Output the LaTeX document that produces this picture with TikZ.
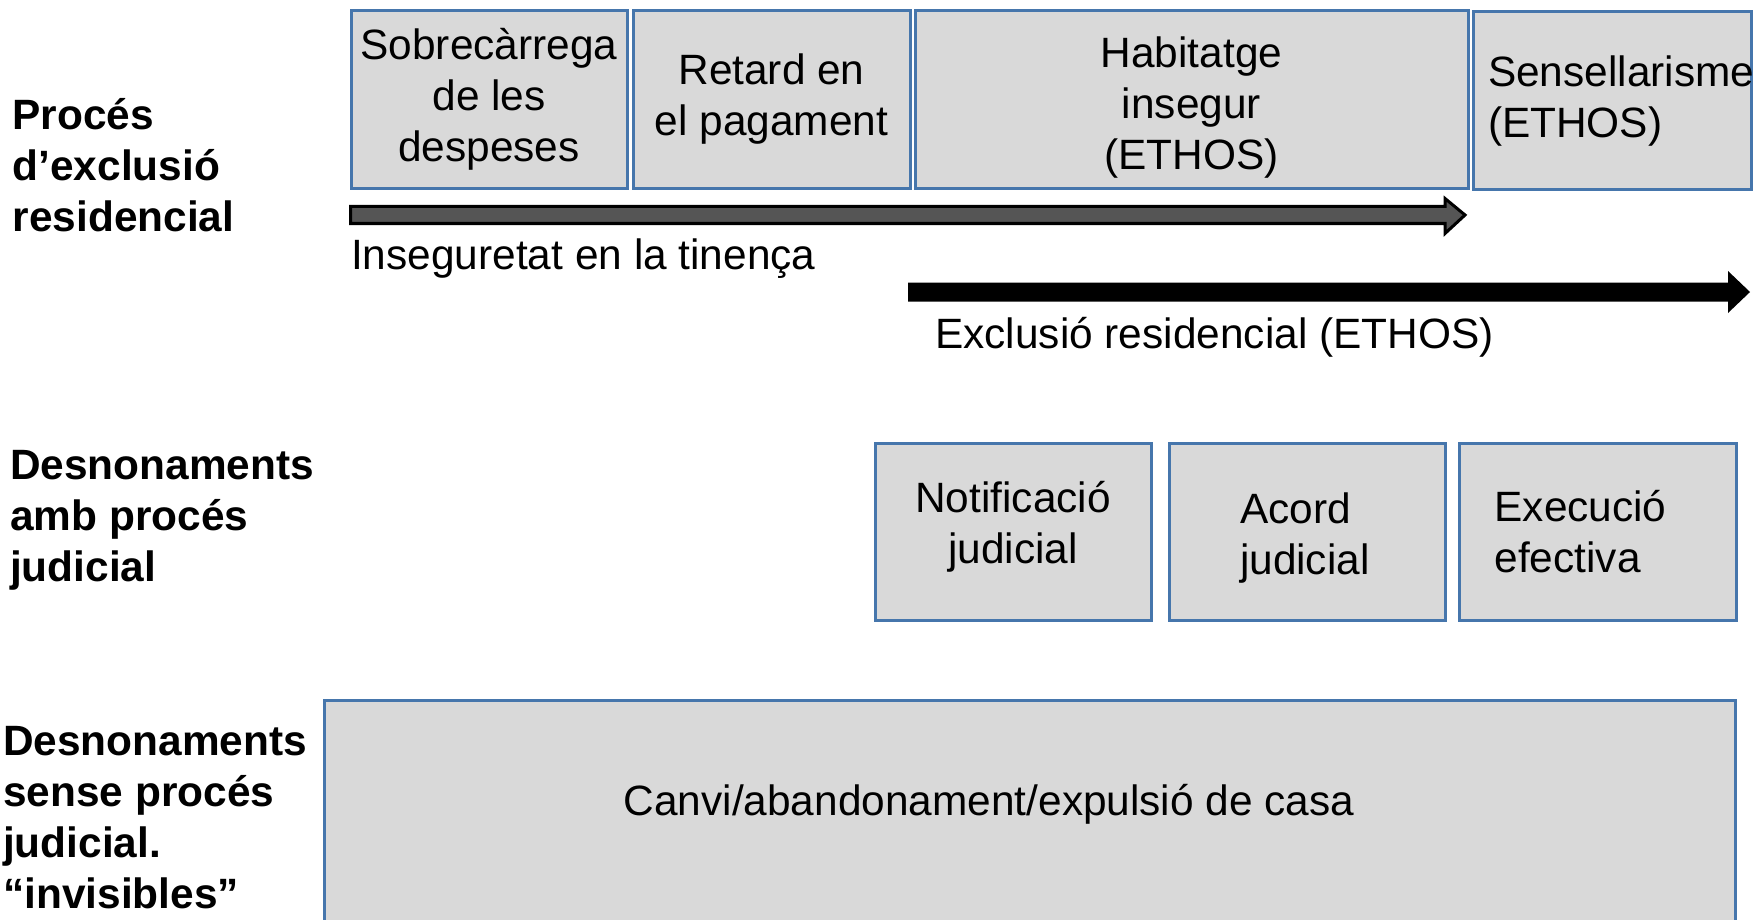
\documentclass[tikz,border=0pt]{standalone}
\usepackage{fontspec}
\setmainfont{Liberation Sans}
\definecolor{boxfill}{RGB}{217,217,217}
\definecolor{boxline}{RGB}{70,118,172}
\definecolor{arrowgray}{RGB}{85,85,85}
\begin{document}
\begin{tikzpicture}[x=1pt,y=-1pt,
  rowlabel/.style={font=\bfseries\fontsize{42.4}{51}\selectfont, align=left, inner sep=0pt, anchor=west},
  stage/.style={draw=boxline, line width=3pt, fill=boxfill, rectangle, inner sep=0pt,
                font=\fontsize{42.4}{51}\selectfont, align=center},
  stageleft/.style={stage, align=left},
  plaintext/.style={font=\fontsize{42.4}{51}\selectfont, inner sep=0pt}
]
\useasboundingbox (0,0) rectangle (1761,920);

% Row labels
\node[rowlabel] (l1) at (12.5,165.5) {Procés\\d’exclusió\\residencial};
\node[rowlabel] (l2) at (10,520) {Desnonaments\\amb procés\\judicial};
\node[rowlabel] (l3) at (3,817.5) {Desnonaments\\sense procés\\judicial.\\“invisibles”};

% Row 1 boxes
\node[stage, minimum width=276pt, minimum height=178pt] (b1) at (489,99.5)
  {Sobrecàrrega\\de les\\despeses};
\node[stage, minimum width=277pt, minimum height=178pt] (b2) at (771.5,99.5)
  {Retard en\\el pagament};
\node[stage, minimum width=553pt, minimum height=178pt] (b3) at (1191.5,100)
  {\rule{0pt}{46pt}Habitatge\\insegur\\(ETHOS)};
\node[stageleft, minimum width=278pt, minimum height=178pt, text width=248pt] (b4) at (1612,101)
  {Sensellarisme\\(ETHOS)};

% Arrows of row 1
\coordinate (a1e) at (1465,215);
\draw[line width=3pt, fill=arrowgray, line join=miter]
  (350.5,206.5) -- (1445,206.5) -- (1445,198.5) -- (a1e) -- (1445,233.5) -- (1445,223.5) -- (350.5,223.5) -- cycle;
\node[plaintext, anchor=base west] (t1) at (351,269) {Inseguretat en la tinença};

\coordinate (a2e) at (1750,292);
\fill[black]
  (908,282.5) -- (1728,282.5) -- (1728,271) -- (a2e) -- (1728,313) -- (1728,301.5) -- (908,301.5) -- cycle;
\node[plaintext, anchor=base west] (t2) at (935,348) {Exclusió residencial (ETHOS)};

% Row 2 boxes
\node[stage, minimum width=276pt, minimum height=177pt] (n1) at (1013,531.5)
  {Notificació\\judicial\rule[-18pt]{0pt}{1pt}};
\node[stageleft, minimum width=276pt, minimum height=177pt, text width=134pt] (n2) at (1307,531.5)
  {\rule{0pt}{43pt}Acord\\judicial};
\node[stageleft, minimum width=277pt, minimum height=177pt, text width=206pt] (n3) at (1597.5,531.5)
  {Execució\\efectiva};

% Row 3 box
\node[stage, minimum width=1410.5pt, minimum height=235pt] (r3) at (1029.75,817.5) {};
\node[plaintext, anchor=base] (t3) at (989,815) {Canvi/abandonament/expulsió de casa};
\end{tikzpicture}
\end{document}
